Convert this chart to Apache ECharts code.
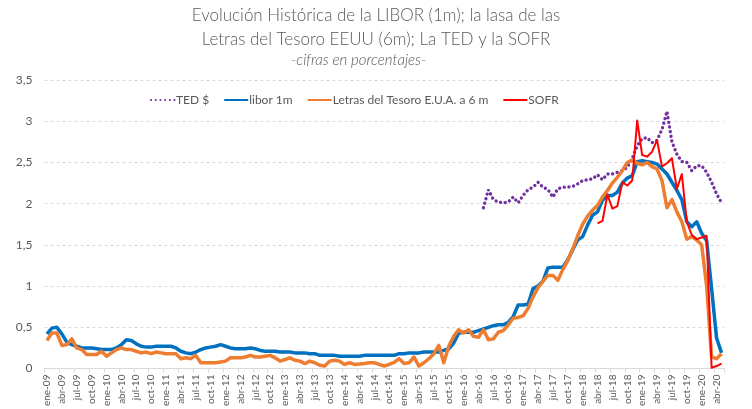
<!DOCTYPE html>
<html>
<head>
<meta charset="utf-8">
<script src="https://cdn.jsdelivr.net/npm/echarts@6/dist/echarts.min.js"></script>
<style>
  html, body { margin: 0; padding: 0; background: #fff; }
  #chart { width: 752px; height: 409px; }
</style>
</head>
<body>
<div id="chart"></div>
<script>
// Monthly series, ene-09 .. may-20 (137 months)
const MONTHS = ['ene', 'feb', 'mar', 'abr', 'may', 'jun', 'jul', 'ago', 'sep', 'oct', 'nov', 'dic'];
const START_YEAR = 2009;
const N_MONTHS = 137;

const categories = [];
for (let i = 0; i < N_MONTHS; i++) {
  const y = START_YEAR + Math.floor(i / 12);
  categories.push(MONTHS[i % 12] + '-' + String(y).slice(2));
}

const yTicks = [0, 0.5, 1, 1.5, 2, 2.5, 3, 3.5];

// libor 1m
const libor = [
  0.42, 0.49, 0.50, 0.42, 0.32, 0.29, 0.27, 0.25, 0.25, 0.25,
  0.24, 0.23, 0.23, 0.23, 0.25, 0.29, 0.35, 0.34, 0.30, 0.27,
  0.26, 0.26, 0.27, 0.27, 0.27, 0.27, 0.25, 0.21, 0.19, 0.18,
  0.20, 0.23, 0.25, 0.26, 0.27, 0.29, 0.27, 0.25, 0.24, 0.24,
  0.24, 0.25, 0.24, 0.22, 0.21, 0.21, 0.21, 0.20, 0.20, 0.20,
  0.19, 0.19, 0.19, 0.18, 0.18, 0.16, 0.16, 0.16, 0.16, 0.15,
  0.15, 0.15, 0.15, 0.15, 0.16, 0.16, 0.16, 0.16, 0.16, 0.16,
  0.16, 0.18, 0.18, 0.19, 0.19, 0.19, 0.20, 0.20, 0.20, 0.20,
  0.22, 0.24, 0.31, 0.43, 0.44, 0.44, 0.44, 0.46, 0.48, 0.50,
  0.52, 0.53, 0.53, 0.56, 0.63, 0.77, 0.77, 0.78, 0.97, 1.00,
  1.06, 1.22, 1.23, 1.23, 1.23, 1.32, 1.44, 1.56, 1.60, 1.74,
  1.86, 1.90, 2.04, 2.10, 2.10, 2.14, 2.25, 2.31, 2.34, 2.51,
  2.52, 2.51, 2.50, 2.48, 2.42, 2.36, 2.26, 2.16, 2.05, 1.78,
  1.72, 1.78, 1.64, 1.55, 0.97, 0.37, 0.19
];

// Letras del Tesoro E.U.A. a 6 m
const letras = [
  0.34, 0.43, 0.43, 0.28, 0.29, 0.36, 0.25, 0.23, 0.17, 0.17,
  0.17, 0.21, 0.15, 0.19, 0.23, 0.25, 0.23, 0.23, 0.21, 0.19,
  0.20, 0.18, 0.20, 0.19, 0.18, 0.18, 0.18, 0.12, 0.13, 0.12,
  0.16, 0.07, 0.07, 0.07, 0.07, 0.08, 0.09, 0.13, 0.13, 0.13,
  0.14, 0.16, 0.14, 0.14, 0.15, 0.16, 0.13, 0.09, 0.11, 0.13,
  0.10, 0.09, 0.06, 0.09, 0.07, 0.04, 0.03, 0.09, 0.10, 0.09,
  0.05, 0.07, 0.05, 0.055, 0.06, 0.07, 0.07, 0.05, 0.03, 0.05,
  0.075, 0.12, 0.06, 0.07, 0.14, 0.03, 0.07, 0.12, 0.18, 0.28,
  0.07, 0.27, 0.39, 0.47, 0.43, 0.47, 0.39, 0.38, 0.47, 0.35,
  0.36, 0.44, 0.46, 0.53, 0.61, 0.62, 0.64, 0.73, 0.87, 0.98,
  1.06, 1.13, 1.13, 1.07, 1.20, 1.31, 1.45, 1.61, 1.75, 1.85,
  1.92, 1.98, 2.08, 2.16, 2.25, 2.32, 2.40, 2.50, 2.53, 2.49,
  2.47, 2.50, 2.45, 2.42, 2.28, 1.95, 2.05, 1.90, 1.78, 1.57,
  1.60, 1.56, 1.50, 1.00, 0.14, 0.12, 0.18
];

// TED $ (starts may-16)
const TED_START = 88;
const tedValues = [
  1.95, 2.17, 2.05, 2.02, 2.01, 2.02, 2.08, 2.01, 2.10, 2.17,
  2.20, 2.26, 2.20, 2.17, 2.08, 2.18, 2.20, 2.20, 2.21, 2.24,
  2.28, 2.29, 2.30, 2.35, 2.29, 2.36, 2.36, 2.38, 2.40, 2.44,
  2.55, 2.70, 2.79, 2.80, 2.74, 2.77, 2.90, 3.12, 2.75, 2.60,
  2.51, 2.50, 2.40, 2.46, 2.46, 2.38, 2.26, 2.12, 2.01
];

// SOFR (starts abr-18)
const SOFR_START = 111;
const sofrValues = [
  1.76, 1.79, 2.11, 1.94, 1.97, 2.26, 2.22, 2.28, 3.01, 2.59,
  2.57, 2.63, 2.77, 2.45, 2.49, 2.55, 2.18, 2.36, 1.78, 1.62,
  1.57, 1.59, 1.61, 0.01, 0.03, 0.06
];

const ted = Array(TED_START).fill(null).concat(tedValues);
const sofr = Array(SOFR_START).fill(null).concat(sofrValues);

const TXT = '#595959';
const FONT = 'Lato, "Open Sans", sans-serif';
const titleFont = { fontFamily: FONT, fontSize: 17, fontWeight: 300, color: TXT };

const chart = echarts.init(document.getElementById('chart'), null, { renderer: 'canvas' });

chart.setOption({
  animation: false,
  backgroundColor: '#fff',
  textStyle: { fontFamily: FONT, color: TXT },
  title: [
    { text: 'Evolución Histórica de la LIBOR (1m); la lasa de las', left: 'center', top: 7, padding: 0, textStyle: titleFont },
    { text: 'Letras del Tesoro EEUU (6m); La TED y la SOFR', left: 'center', top: 31, padding: 0, textStyle: titleFont },
    {
      text: '-cifras en porcentajes-',
      left: 291,
      top: 53,
      padding: 0,
      textStyle: { fontFamily: FONT, fontSize: 15, fontStyle: 'italic', fontWeight: 300, color: TXT }
    }
  ],
  legend: {
    top: 89,
    left: 145,
    itemWidth: 24,
    itemHeight: 10,
    itemGap: 14,
    itemStyle: { opacity: 0 },
    textStyle: { fontFamily: FONT, fontSize: 12, color: TXT, padding: [0, 0, 0, -4] },
    data: ['TED $', 'libor 1m', 'Letras del Tesoro E.U.A. a 6 m', 'SOFR']
  },
  grid: { left: 44.5, right: 28, top: 80, bottom: 33, containLabel: false },
  xAxis: {
    type: 'category',
    data: categories,
    boundaryGap: true,
    axisLine: { lineStyle: { color: '#d9d9d9', width: 1 } },
    axisTick: { show: true, interval: 2, length: 4, lineStyle: { color: '#d9d9d9' } },
    axisLabel: { interval: 2, rotate: 90, fontSize: 10, color: TXT, fontFamily: FONT, margin: 6 }
  },
  yAxis: {
    type: 'value',
    min: yTicks[0],
    max: yTicks[yTicks.length - 1],
    interval: 0.5,
    axisLine: { show: false },
    axisTick: { show: false },
    axisLabel: {
      fontSize: 12, color: TXT, fontFamily: FONT, margin: 12,
      formatter: (v) => String(v).replace('.', ',')
    },
    splitLine: { lineStyle: { color: '#d9d9d9', type: [3, 3], width: 1 } }
  },
  series: [
    {
      name: 'TED $', type: 'line', data: ted, symbol: 'none',
      lineStyle: { color: '#7030A0', width: 3.3, type: [0.1, 4.6], cap: 'round' },
      itemStyle: { color: '#7030A0' }
    },
    {
      name: 'libor 1m', type: 'line', data: libor, symbol: 'none',
      lineStyle: { color: '#0070C0', width: 3.5, join: 'round' },
      itemStyle: { color: '#0070C0' }
    },
    {
      name: 'Letras del Tesoro E.U.A. a 6 m', type: 'line', data: letras, symbol: 'none',
      lineStyle: { color: '#ED7D31', width: 3.5, join: 'round' },
      itemStyle: { color: '#ED7D31' }
    },
    {
      name: 'SOFR', type: 'line', data: sofr, symbol: 'none',
      lineStyle: { color: '#FF0000', width: 2, join: 'round' },
      itemStyle: { color: '#FF0000' }
    }
  ]
});
</script>
</body>
</html>
